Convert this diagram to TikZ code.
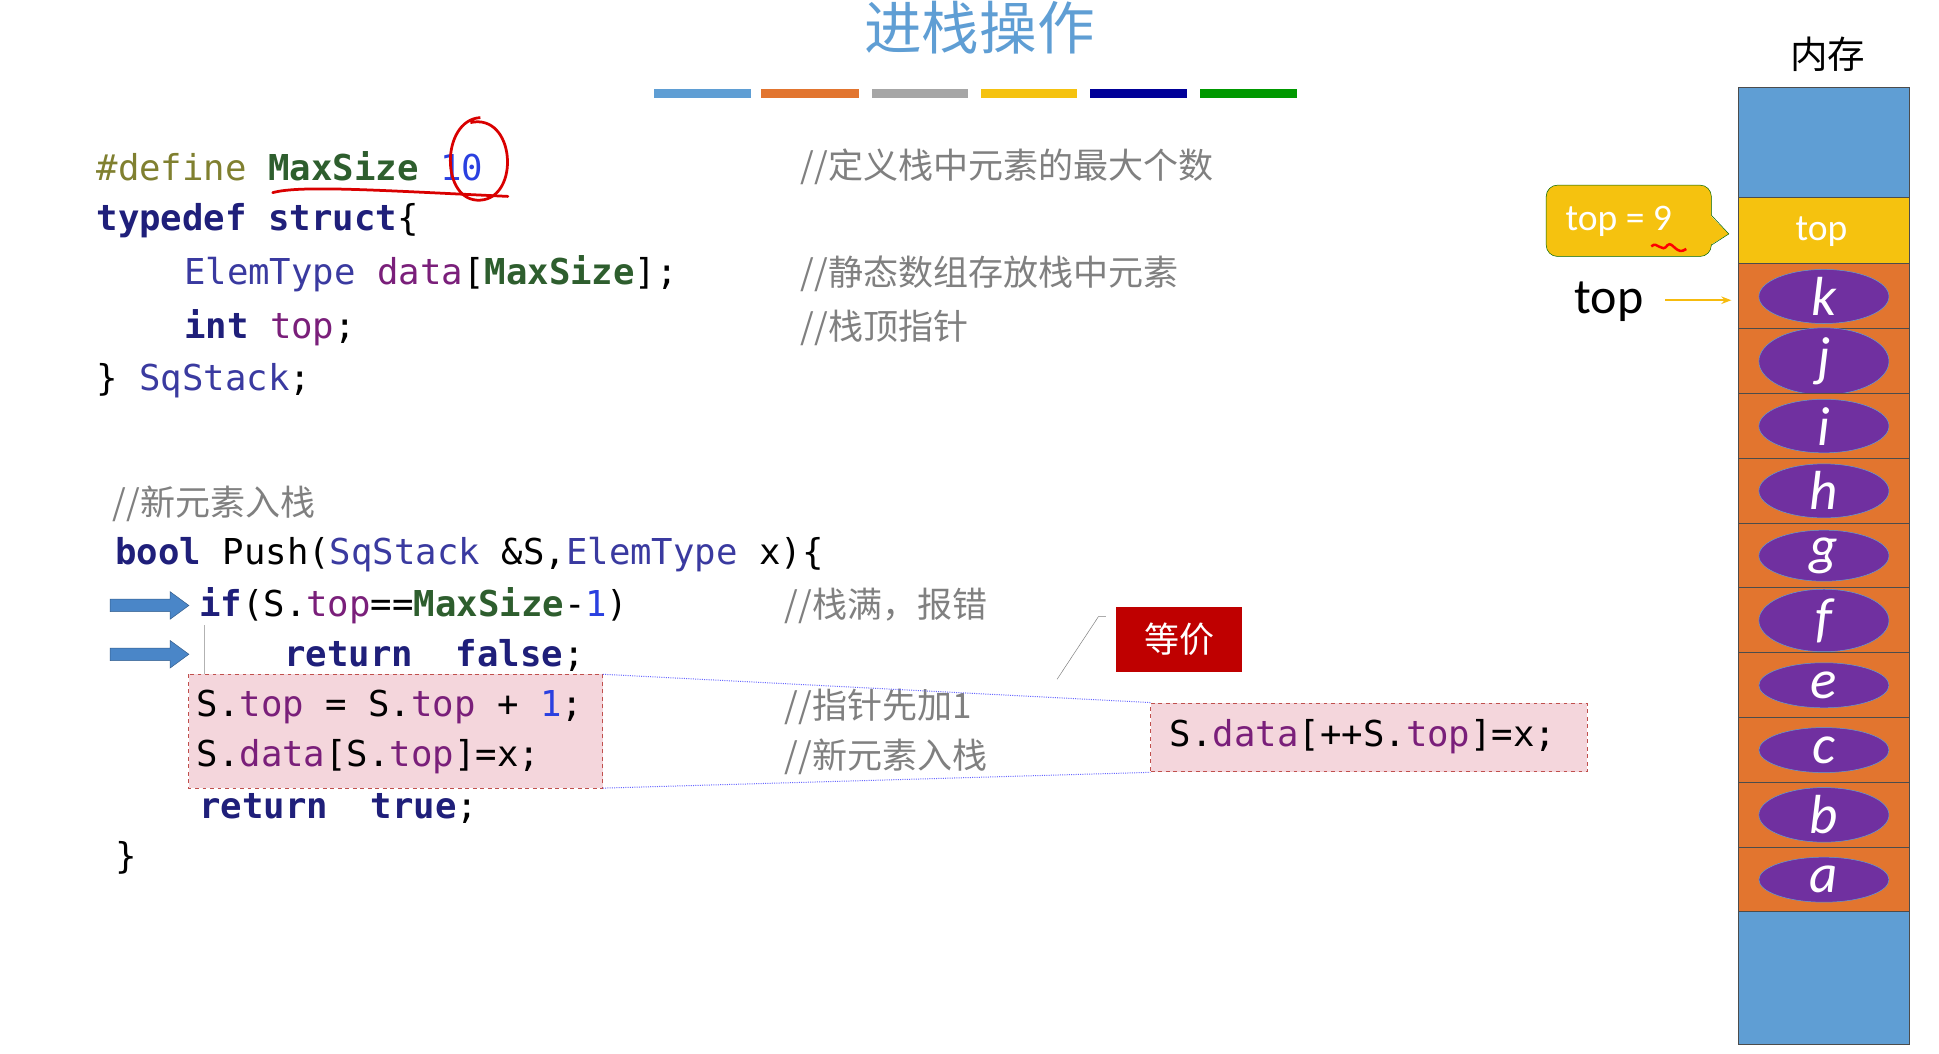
\documentclass[tikz,border=0pt]{standalone}
\usepackage{fontspec}
\usetikzlibrary{shapes.geometric,shapes.arrows,arrows.meta}
\setmonofont{DejaVu Sans Mono}
\newfontfamily\cjk{Noto Sans CJK SC}
\newfontfamily\carl{Carlito}
\definecolor{olv}{HTML}{808030}
\definecolor{grn}{HTML}{2E5E2E}
\definecolor{nav}{HTML}{1F1F7A}
\definecolor{ety}{HTML}{3A3AA0}
\definecolor{prp}{HTML}{7A1F7A}
\definecolor{num}{HTML}{2A40E0}
\definecolor{cmt}{HTML}{808080}
\definecolor{pinkf}{HTML}{F4D6DC}
\definecolor{pinkd}{HTML}{C0504D}
\definecolor{memb}{HTML}{5F9ED4}
\definecolor{memy}{HTML}{F5C20F}
\definecolor{memo}{HTML}{E2752F}
\definecolor{elp}{HTML}{7030A0}
\definecolor{arb}{HTML}{4A86C8}
\begin{document}
\begin{tikzpicture}[x=1pt,y=-1pt,
  code/.style={anchor=west,inner sep=0pt,font=\ttfamily\fontsize{28.5}{28}\selectfont},
  cmtxt/.style={anchor=west,inner sep=0pt,text=cmt,font=\cjk\fontsize{28}{28}\selectfont},
  pbox/.style={draw=pinkd,fill=pinkf,dashed,thick},
  cell/.style={draw=black!70,thick},
  elem/.style={ellipse,draw=memb,fill=elp,minimum width=104pt,minimum height=36pt,inner sep=0pt,text=white,font=\carl\fontsize{44}{44}\selectfont\itshape},
  bluearr/.style={draw=arb!70!black,fill=arb}]
\fill[white] (0,0) rectangle (1550,842);
\useasboundingbox (0,0) rectangle (1550,842);
% title
\node[text=memb,font=\cjk\fontsize{46}{46}\selectfont] (title) at (783,22) {进栈操作};
\foreach \a/\b/\c in {523/600/memb,608/687/memo,697/774/gray!70,784/861/memy,871/949/blue!60!black,959/1037/green!60!black}
  \fill[\c] (\a,71) rectangle (\b,78);
% struct code
\node[code] (l1) at (77,133) {\textcolor{olv}{\#define} \textcolor{grn}{\bfseries MaxSize} \textcolor{num}{10}};
\node[code] (l2) at (77,176) {\textcolor{nav}{\bfseries typedef struct}\{};
\node[code] (l3) at (147,219) {\textcolor{ety}{ElemType} \textcolor{prp}{data}[\textcolor{grn}{\bfseries MaxSize}];};
\node[code] (l4) at (147,262) {\textcolor{nav}{\bfseries int} \textcolor{prp}{top};};
\node[code] (l5) at (77,304) {\} \textcolor{ety}{SqStack};};
\node[cmtxt] (c1) at (640,133) {//定义栈中元素的最大个数};
\node[cmtxt] (c2) at (640,219) {//静态数组存放栈中元素};
\node[cmtxt] (c3) at (640,262) {//栈顶指针};
% red annotations
\draw[red!85!black,line width=2.2pt] (384,94) .. controls (352,96) and (352,162) .. (384,160) .. controls (416,158) and (412,90) .. (376,98);
\draw[red!85!black,line width=2.2pt,line cap=round] (218,154) .. controls (240,148) and (300,152) .. (406,157);
% push code
\node[cmtxt] (p0) at (90,403) {//新元素入栈};
\node[code] (p1) at (92,443) {\textcolor{nav}{\bfseries bool} Push(\textcolor{ety}{SqStack} \&S,\textcolor{ety}{ElemType} x)\{};
\node[code] (p2) at (159,484) {\textcolor{nav}{\bfseries if}(S.\textcolor{prp}{top}==\textcolor{grn}{\bfseries MaxSize}-\textcolor{num}{1})};
\node[cmtxt] (pc2) at (627,484) {//栈满，报错};
\node[code] (p3) at (227,524) {\textcolor{nav}{\bfseries return\ \ false};};
\draw[gray!60] (163,500) -- (163,540);
\draw[pbox] (151,539) rectangle (482,630);
\node[code] (p4) at (157,565) {S.\textcolor{prp}{top} = S.\textcolor{prp}{top} + \textcolor{num}{1};};
\node[code] (p5) at (157,605) {S.\textcolor{prp}{data}[S.\textcolor{prp}{top}]=x;};
\node[cmtxt] (pc4) at (627,565) {//指针先加1};
\node[cmtxt] (pc5) at (627,605) {//新元素入栈};
\node[code] (p6) at (159,646) {\textcolor{nav}{\bfseries return\ \ true};};
\node[code] (p7) at (92,686) {\}};
\foreach \yy in {484,523}
  \draw[bluearr] (88,\yy-5) -- (136,\yy-5) -- (136,\yy-11) -- (151,\yy) -- (136,\yy+11) -- (136,\yy+5) -- (88,\yy+5) -- cycle;
% equivalent box
\node[pbox,minimum width=349pt,minimum height=55pt,inner sep=0pt] (eq) at (1094.5,589.5) {};
\node[code] (eqt) at (935,589) {S.\textcolor{prp}{data}[++S.\textcolor{prp}{top}]=x;};
\draw[blue!60,densely dotted,thick] (482,539) -- (eq.north west);
\draw[blue!60,densely dotted,thick] (482,630) -- (eq.south west);
\node[fill=red!75!black,text=white,minimum width=101pt,minimum height=52pt,font=\cjk\fontsize{28}{28}\selectfont] (dj) at (942.5,511) {等价};
\draw[gray] (845,543) -- (878,493) -- (884,493);
% memory
\node[font=\cjk\fontsize{30}{30}\selectfont] (mem) at (1461,43) {内存};
\draw[cell,fill=memb] (1390,70) rectangle (1526,158);
\draw[cell,fill=memy] (1390,158) rectangle (1526,211);
\node[text=white,font=\carl\fontsize{30}{30}\selectfont] (tp) at (1456,185) {top};
\foreach \l [count=\i from 0] in {k,j,i,h,g,f,e,c,b,a}{
  \draw[cell,fill=memo] (1390,211+51.8*\i) rectangle (1526,211+51.8*\i+51.8);
  \node[elem] (e\i) at (1458,237+51.8*\i) {\l};
}
\draw[cell,fill=memb] (1390,729) rectangle (1526,835);
% callout
\draw[green!40!black,fill=memy,rounded corners=9pt] (1368,172) -- (1368,148) -- (1236,148) -- (1236,205) -- (1368,205) -- (1368,195);
\fill[memy] (1367,172) -- (1382,187) -- (1367,196) -- cycle;
\draw[green!40!black] (1368,172) -- (1382,187) -- (1368,196);
\node[text=white,font=\carl\fontsize{30}{30}\selectfont,anchor=west] (cal) at (1248,177) {top = 9};
\draw[red,line width=2pt] (1320,197) .. controls (1325,192) and (1328,203) .. (1333,196) .. controls (1337,192) and (1340,205) .. (1348,199);
% top pointer
\node[font=\carl\fontsize{40}{40}\selectfont,anchor=west] (tl) at (1255,241) {top};
\coordinate (tarr) at (1384,240);
\draw[-{Stealth[length=8pt]},memy!90!orange,line width=1.5pt] (1331,240) -- (tarr);
\end{tikzpicture}
\end{document}
